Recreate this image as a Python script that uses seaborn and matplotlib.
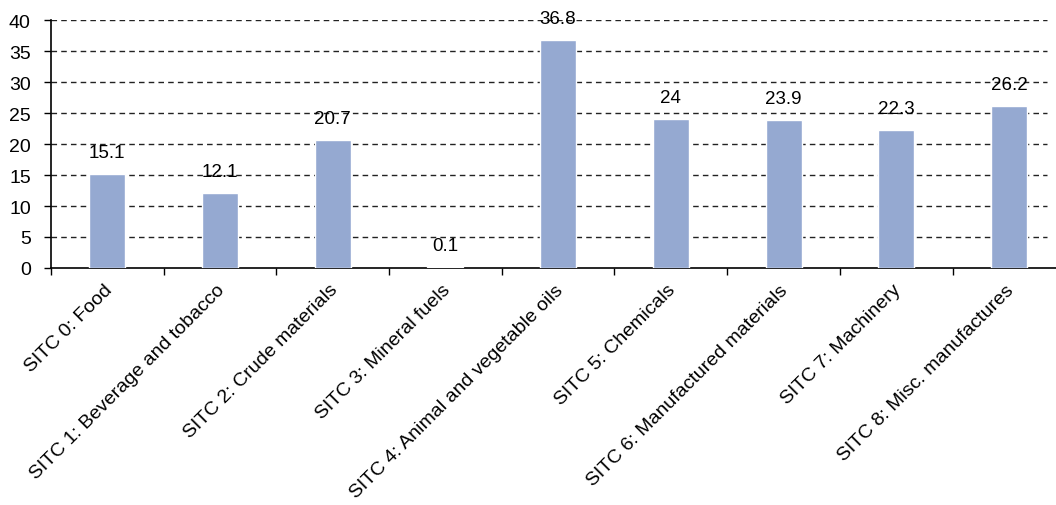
import matplotlib
matplotlib.use("Agg")
import matplotlib.pyplot as plt
import seaborn as sns
import pandas as pd

categories = [
    "SITC 0: Food",
    "SITC 1: Beverage and tobacco",
    "SITC 2: Crude materials",
    "SITC 3: Mineral fuels",
    "SITC 4: Animal and vegetable oils",
    "SITC 5: Chemicals",
    "SITC 6: Manufactured materials",
    "SITC 7: Machinery",
    "SITC 8: Misc. manufactures",
]
values = [15.1, 12.1, 20.7, 0.1, 36.8, 24, 23.9, 22.3, 26.2]
value_labels = ["15.1", "12.1", "20.7", "0.1", "36.8", "24", "23.9", "22.3", "26.2"]
y_ticks = [0, 5, 10, 15, 20, 25, 30, 35, 40]

sns.set_style("white")
plt.rcParams["font.family"] = ["Liberation Sans", "DejaVu Sans"]
plt.rcParams["text.color"] = "black"
plt.rcParams["xtick.color"] = "black"
plt.rcParams["ytick.color"] = "black"

df = pd.DataFrame({"category": categories, "value": values})

fig = plt.figure(figsize=(10.56, 5.06), dpi=100)
# plot area runs slightly past the right edge of the canvas
ax = fig.add_axes([0.0483, 0.4684, 0.9605, 0.490])

sns.barplot(data=df, x="category", y="value", color="#95A9D1",
            width=0.32, saturation=1, ax=ax, zorder=3)

ax.set_ylim(0, 40)
ax.set_xlim(-0.5, len(categories) - 0.5)
ax.set_yticks(y_ticks)
ax.set_yticklabels([str(t) for t in y_ticks], fontsize=14)

# dashed horizontal gridlines above zero
for t in y_ticks[1:]:
    ax.axhline(t, xmin=0, xmax=0.982, color="#222222",
               linestyle=(0, (4, 3)), linewidth=1.0, zorder=1)

# tick marks at the category boundaries
ax.set_xticks([i - 0.5 for i in range(len(categories) + 1)])
ax.set_xticklabels([])
ax.tick_params(axis="x", bottom=True, direction="out", length=5, width=1, color="black")
ax.tick_params(axis="y", left=True, direction="out", length=5, width=1, color="black", pad=9.5)

# rotated category labels hanging below each bar
for i, c in enumerate(categories):
    ax.annotate(c, (i, 0), xytext=(-4, -13), textcoords="offset pixels",
                rotation=45, ha="right", va="top", rotation_mode="anchor",
                fontsize=14.0, color="black", annotation_clip=False)

# value labels above the bars
for i, (v, lab) in enumerate(zip(values, value_labels)):
    ax.annotate(lab, (i, v), xytext=(0, 13), textcoords="offset pixels",
                ha="center", va="bottom", fontsize=13.5, color="black", zorder=4)

for side in ["top", "right"]:
    ax.spines[side].set_visible(False)
for side in ["left", "bottom"]:
    ax.spines[side].set_color("black")
    ax.spines[side].set_linewidth(1.2)
ax.set_xlabel("")
ax.set_ylabel("")

fig.savefig("out.png", dpi=100)
